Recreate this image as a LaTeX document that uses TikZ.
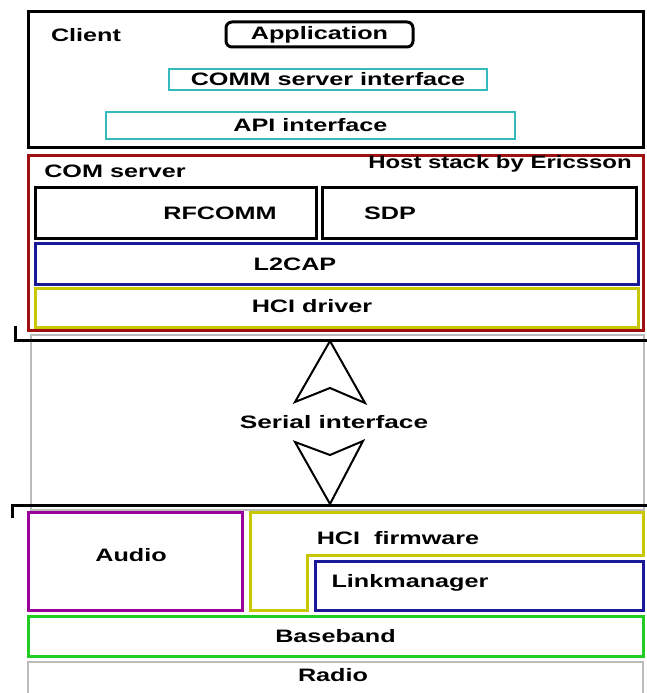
\documentclass[tikz,border=0pt]{standalone}
\usepackage{fontspec}
\setmainfont{Liberation Sans}
\usepackage{tikz}
\usetikzlibrary{positioning,calc}
\definecolor{cyanbox}{HTML}{33BBBB}
\definecolor{redbox}{HTML}{A01010}
\definecolor{bluebox}{HTML}{1A1A99}
\definecolor{yellowbox}{HTML}{C8C800}
\definecolor{purplebox}{HTML}{990099}
\definecolor{greenbox}{HTML}{22CC22}
\definecolor{greybox}{HTML}{BBBBBB}
\newcommand{\wtxt}[1]{\scalebox{1.4}[1]{#1}}

\begin{document}
\begin{tikzpicture}[
  x=1pt,y=-1pt,
  font=\fontsize{18}{20}\selectfont\bfseries,
  box/.style={draw,line width=3pt,inner sep=0pt,outer sep=0pt},
  thin box/.style={draw=greybox,line width=1.6pt,inner sep=0pt,outer sep=0pt},
  lbl/.style={inner sep=0pt},
  bar/.style={line width=3pt},
  hollow/.style={line width=2pt,line join=miter,fill=white}
]
\useasboundingbox (0,0) rectangle (647,693);
\node[thin box,minimum width=613pt,minimum height=175pt] (serial) at (337.5,422.5) {};
\node[box,minimum width=615pt,minimum height=135pt] (client) at (335.5,79.5) {};
\node[lbl] (clientlbl) at (86,35) {\wtxt{Client}};
\node[box,rounded corners=6pt,minimum width=187pt,minimum height=25pt] (app) at (319.5,34.5) {\wtxt{Application}};
\node[box,draw=cyanbox,line width=2.4pt,minimum width=318pt,minimum height=21pt] (comm) at (328,79.5) {\wtxt{COMM server interface}};
\node[box,draw=cyanbox,line width=2.4pt,minimum width=409pt,minimum height=27pt] (api) at (310.5,125.5) {\wtxt{API interface}};

\node[box,draw=redbox,minimum width=615pt,minimum height=175pt] (comsrv) at (335.5,242.5) {};
\node[lbl] (comsrvlbl) at (115,171) {\wtxt{COM server}};
\node[lbl] (host) at (500,164) {\scalebox{1.33}[1]{Host stack by Ericsson}};
\node[box,minimum width=281pt,minimum height=51pt] (rfcomm) at (175.5,212.5) {};
\node[lbl] at (220,213) {\wtxt{RFCOMM}};
\node[box,minimum width=314pt,minimum height=51pt] (sdp) at (479,212.5) {};
\node[lbl] at (390,213) {\wtxt{SDP}};
\node[box,draw=bluebox,minimum width=603pt,minimum height=41pt] (l2cap) at (336.5,263.5) {};
\node[lbl] at (295,264) {\wtxt{L2CAP}};
\node[box,draw=yellowbox,minimum width=603pt,minimum height=39pt] (hcidrv) at (336.5,307.5) {};
\node[lbl] at (312,306) {\wtxt{HCI driver}};

\draw[bar] (15,326) -- (15,340) -- (647,340);
\draw[bar] (12,518) -- (12,505) -- (647,505);

\node[lbl] (seriallbl) at (334,422) {\scalebox{1.46}[1]{Serial interface}};
\coordinate (uptip) at (330,341);
\coordinate (downtip) at (330,504);
\draw[hollow] (uptip) -- (365,403) -- (330,388) -- (295,402) -- cycle;
\draw[hollow] (downtip) -- (295,442) -- (330,455) -- (363,441) -- cycle;

\node[box,draw=purplebox,minimum width=214pt,minimum height=98pt] (audio) at (135,561) {};
\node[lbl] at (131,555) {\wtxt{Audio}};
\draw[box,draw=yellowbox] (250,512) -- (643,512) -- (643,555) -- (307,555)
  -- (307,610) -- (250,610) -- cycle;
\node[lbl] (hcifw) at (398,538) {\wtxt{HCI~~firmware}};
\node[box,draw=bluebox,minimum width=328pt,minimum height=49pt] (link) at (479,585.5) {};
\node[lbl] at (410,583) {\wtxt{Linkmanager}};
\node[box,draw=greenbox,minimum width=615pt,minimum height=40pt] (baseband) at (335.5,636) {\wtxt{Baseband}};
\node[thin box,minimum width=615pt,minimum height=40pt] (radio) at (335.5,682) {};
\node[lbl] at (333,675) {\wtxt{Radio}};
\end{tikzpicture}
\end{document}
